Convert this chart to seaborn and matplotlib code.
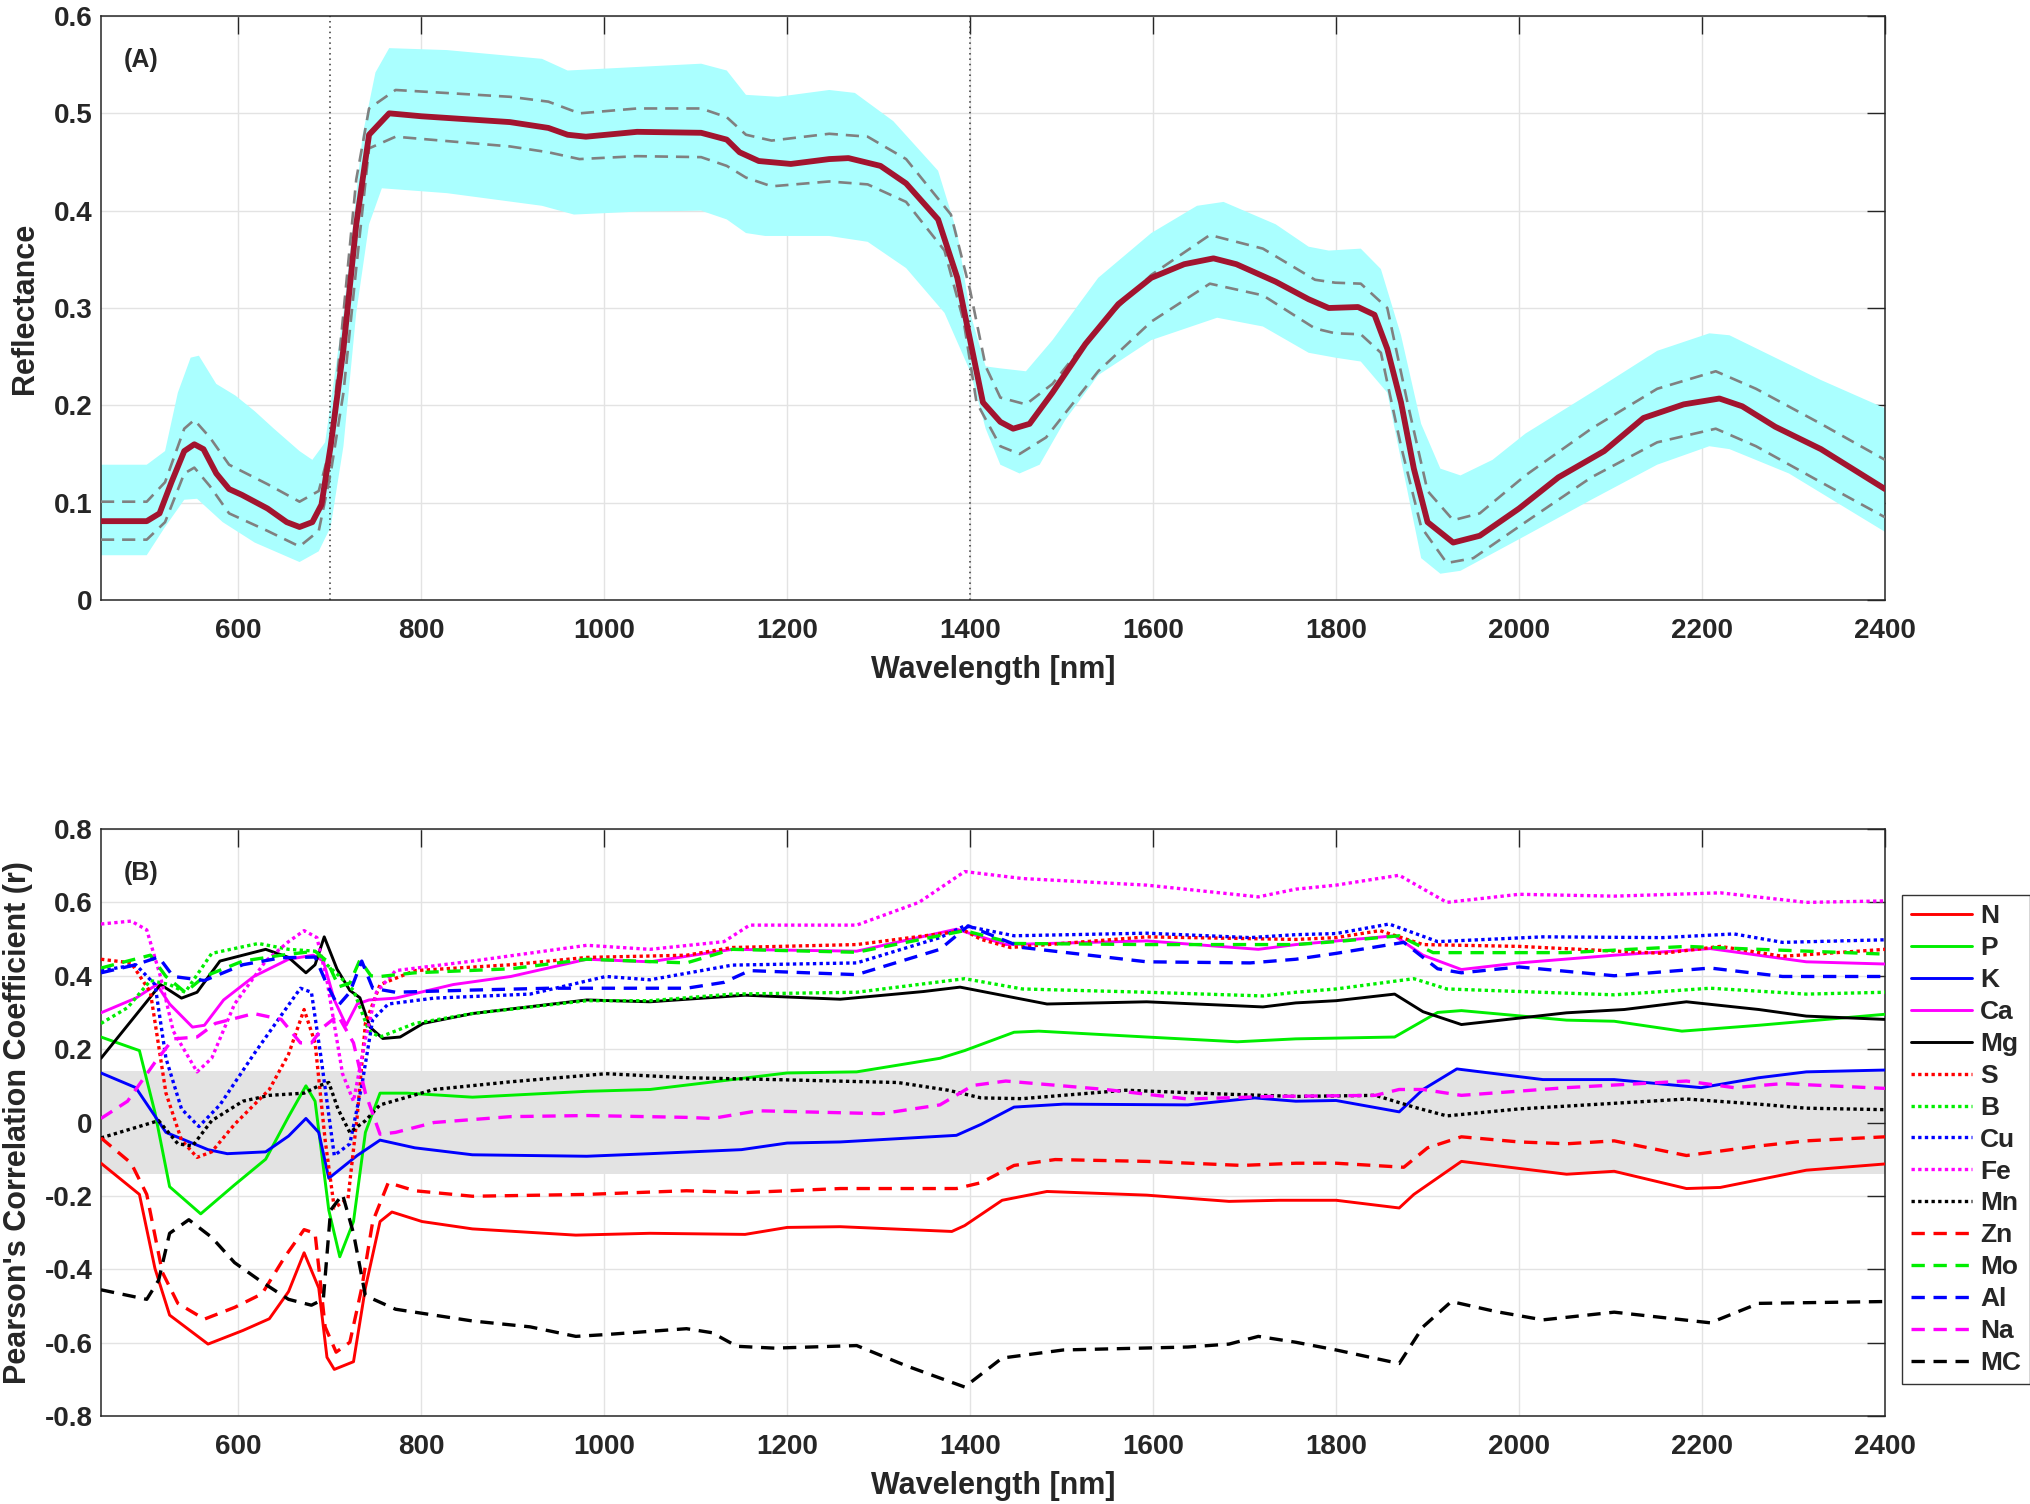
import numpy as np
import matplotlib
matplotlib.use("Agg")
import matplotlib.pyplot as plt
from matplotlib.ticker import FuncFormatter
import seaborn as sns

# ---- panel A: mean spectrum, +/- std (dashed) and min/max envelope (cyan)
MEAN_WL = [450, 500, 514, 527, 541, 552, 562, 576, 590, 604, 632, 653, 667, 681, 691, 701,
           715, 729, 743, 765, 800, 897, 939, 960, 980, 1036, 1106, 1134, 1148, 1169, 1204,
           1246, 1267, 1302, 1330, 1365, 1386, 1400, 1414, 1433, 1447, 1465, 1490, 1526, 1562,
           1598, 1634, 1666, 1691, 1734, 1770, 1792, 1824, 1842, 1856, 1871, 1885, 1900, 1928,
           1957, 2000, 2043, 2093, 2136, 2180, 2219, 2244, 2280, 2330, 2400]
MEAN_R = [0.081, 0.081, 0.089, 0.121, 0.153, 0.160, 0.155, 0.130, 0.114, 0.108, 0.094, 0.080,
          0.075, 0.080, 0.098, 0.158, 0.258, 0.386, 0.478, 0.500, 0.497, 0.491, 0.485, 0.478,
          0.476, 0.481, 0.480, 0.473, 0.460, 0.451, 0.448, 0.453, 0.454, 0.446, 0.428, 0.391,
          0.331, 0.267, 0.203, 0.183, 0.176, 0.181, 0.213, 0.263, 0.304, 0.331, 0.345, 0.351,
          0.345, 0.327, 0.309, 0.300, 0.301, 0.293, 0.258, 0.203, 0.135, 0.080, 0.059, 0.066,
          0.094, 0.126, 0.153, 0.187, 0.201, 0.207, 0.199, 0.178, 0.155, 0.114]

STD_HI_WL = [450, 500, 520, 541, 552, 569, 590, 632, 667, 688, 701, 715, 729, 743, 772, 897,
             939, 973, 1036, 1106, 1134, 1155, 1183, 1246, 1288, 1330, 1379, 1400, 1417, 1433,
             1461, 1490, 1540, 1598, 1662, 1720, 1777, 1799, 1827, 1856, 1878, 1900, 1928, 1957,
             2007, 2079, 2151, 2215, 2259, 2330, 2400]
STD_HI_R = [0.101, 0.101, 0.121, 0.176, 0.185, 0.167, 0.139, 0.119, 0.101, 0.112, 0.158, 0.295,
            0.432, 0.505, 0.524, 0.517, 0.512, 0.500, 0.505, 0.505, 0.496, 0.478, 0.472, 0.479,
            0.476, 0.453, 0.396, 0.318, 0.240, 0.208, 0.201, 0.222, 0.281, 0.334, 0.375, 0.361,
            0.329, 0.326, 0.325, 0.300, 0.203, 0.112, 0.082, 0.089, 0.128, 0.176, 0.217, 0.235,
            0.217, 0.181, 0.144]

STD_LO_WL = [450, 500, 520, 541, 552, 569, 590, 632, 667, 688, 701, 715, 729, 743, 772, 897,
             939, 973, 1036, 1106, 1134, 1155, 1183, 1246, 1288, 1330, 1372, 1393, 1407, 1433,
             1454, 1483, 1540, 1598, 1662, 1720, 1777, 1799, 1827, 1849, 1871, 1893, 1921, 1950,
             2007, 2079, 2151, 2215, 2259, 2330, 2400]
STD_LO_R = [0.062, 0.062, 0.080, 0.130, 0.136, 0.117, 0.089, 0.071, 0.055, 0.071, 0.130, 0.213,
            0.341, 0.464, 0.476, 0.466, 0.460, 0.453, 0.456, 0.455, 0.446, 0.434, 0.425, 0.430,
            0.427, 0.409, 0.359, 0.286, 0.203, 0.158, 0.150, 0.167, 0.235, 0.286, 0.325, 0.313,
            0.279, 0.274, 0.273, 0.254, 0.158, 0.075, 0.038, 0.043, 0.080, 0.126, 0.162, 0.176,
            0.158, 0.121, 0.085]

MAX_WL = [450, 500, 520, 534, 548, 557, 576, 597, 618, 639, 667, 681, 695, 715, 736, 750, 765,
          828, 932, 960, 1002, 1106, 1134, 1155, 1190, 1246, 1274, 1316, 1365, 1386, 1400, 1417,
          1433, 1461, 1490, 1540, 1598, 1648, 1677, 1734, 1770, 1792, 1827, 1849, 1871, 1893,
          1914, 1936, 1971, 2007, 2079, 2151, 2208, 2230, 2280, 2330, 2400]
MAX_R = [0.139, 0.139, 0.153, 0.213, 0.249, 0.251, 0.222, 0.210, 0.194, 0.176, 0.153, 0.144,
         0.162, 0.295, 0.478, 0.542, 0.567, 0.565, 0.556, 0.544, 0.546, 0.551, 0.544, 0.519,
         0.517, 0.524, 0.521, 0.492, 0.441, 0.377, 0.295, 0.240, 0.238, 0.235, 0.267, 0.331,
         0.377, 0.405, 0.409, 0.386, 0.363, 0.359, 0.361, 0.340, 0.272, 0.181, 0.135, 0.128,
         0.144, 0.171, 0.213, 0.256, 0.274, 0.272, 0.249, 0.226, 0.197]

MIN_WL = [450, 500, 520, 541, 555, 583, 618, 667, 688, 701, 715, 729, 743, 757, 828, 932, 967,
          1036, 1106, 1134, 1155, 1176, 1246, 1288, 1330, 1372, 1400, 1417, 1433, 1454, 1476,
          1504, 1540, 1598, 1670, 1720, 1770, 1799, 1827, 1856, 1878, 1893, 1914, 1936, 2007,
          2079, 2151, 2208, 2230, 2295, 2400]
MIN_R = [0.046, 0.046, 0.075, 0.103, 0.104, 0.080, 0.059, 0.039, 0.050, 0.075, 0.158, 0.295,
         0.386, 0.423, 0.418, 0.405, 0.396, 0.399, 0.400, 0.391, 0.377, 0.374, 0.374, 0.368,
         0.341, 0.295, 0.235, 0.176, 0.139, 0.130, 0.139, 0.185, 0.231, 0.267, 0.290, 0.281,
         0.254, 0.249, 0.245, 0.213, 0.112, 0.043, 0.027, 0.030, 0.066, 0.103, 0.139, 0.158,
         0.155, 0.130, 0.070]

REGION_EDGES = [700, 1400]

# ---- panel B: Pearson r per element
N_WL = [450, 492, 509, 525, 567, 605, 634, 655, 672, 688, 697, 705, 726, 739, 755, 768, 801,
        856, 969, 1050, 1154, 1200, 1258, 1380, 1394, 1435, 1484, 1593, 1683, 1738, 1800, 1869,
        1885, 1937, 2052, 2104, 2183, 2220, 2314, 2400]
N_R = [-0.111, -0.196, -0.398, -0.525, -0.604, -0.567, -0.535, -0.461, -0.355, -0.451, -0.640,
       -0.673, -0.652, -0.451, -0.270, -0.244, -0.270, -0.290, -0.307, -0.302, -0.305, -0.286,
       -0.284, -0.297, -0.281, -0.212, -0.188, -0.198, -0.215, -0.212, -0.212, -0.233, -0.196,
       -0.106, -0.141, -0.133, -0.180, -0.177, -0.130, -0.113]

P_WL = [450, 492, 509, 525, 559, 596, 630, 655, 674, 684, 699, 711, 726, 739, 755, 785, 856, 981,
        1050, 1200, 1276, 1367, 1394, 1448, 1475, 1593, 1692, 1756, 1864, 1911, 1937, 2052, 2104,
        2178, 2262, 2400]
P_R = [0.233, 0.196, 0.027, -0.175, -0.249, -0.170, -0.100, 0.016, 0.100, 0.058, -0.239, -0.366,
       -0.270, -0.027, 0.080, 0.080, 0.069, 0.085, 0.090, 0.135, 0.138, 0.175, 0.196, 0.246,
       0.249, 0.233, 0.220, 0.228, 0.233, 0.300, 0.305, 0.279, 0.276, 0.249, 0.265, 0.295]

K_WL = [450, 488, 521, 567, 588, 630, 655, 674, 688, 699, 730, 755, 793, 856, 981, 1050, 1150,
        1200, 1258, 1385, 1412, 1448, 1502, 1638, 1711, 1756, 1800, 1869, 1895, 1932, 2026, 2104,
        2199, 2262, 2314, 2400]
K_R = [0.135, 0.095, -0.027, -0.074, -0.085, -0.080, -0.037, 0.011, -0.027, -0.152, -0.090,
       -0.048, -0.069, -0.088, -0.092, -0.085, -0.074, -0.056, -0.053, -0.035, -0.005, 0.042,
       0.050, 0.048, 0.067, 0.058, 0.060, 0.029, 0.090, 0.146, 0.117, 0.117, 0.095, 0.122,
       0.138, 0.143]

CA_WL = [450, 488, 511, 525, 550, 563, 584, 617, 655, 682, 693, 705, 718, 730, 743, 772, 835, 898,
         981, 1050, 1140, 1276, 1385, 1412, 1439, 1593, 1715, 1756, 1864, 1895, 1937, 2000, 2104,
         2209, 2314, 2400]
CA_R = [0.299, 0.339, 0.376, 0.323, 0.260, 0.265, 0.334, 0.398, 0.445, 0.456, 0.440, 0.334,
        0.265, 0.323, 0.334, 0.339, 0.376, 0.398, 0.445, 0.438, 0.472, 0.467, 0.527, 0.506,
        0.485, 0.495, 0.472, 0.485, 0.509, 0.456, 0.417, 0.435, 0.456, 0.474, 0.438, 0.432]

MG_WL = [450, 515, 538, 555, 580, 630, 655, 674, 684, 694, 708, 722, 733, 744, 758, 777, 802,
         856, 981, 1050, 1154, 1258, 1349, 1389, 1484, 1593, 1720, 1756, 1800, 1864, 1895, 1937,
         2052, 2115, 2183, 2262, 2314, 2400]
MG_R = [0.175, 0.376, 0.339, 0.355, 0.440, 0.472, 0.450, 0.408, 0.430, 0.506, 0.418, 0.360,
        0.340, 0.260, 0.229, 0.233, 0.270, 0.297, 0.334, 0.329, 0.347, 0.336, 0.357, 0.369,
        0.323, 0.329, 0.315, 0.326, 0.332, 0.350, 0.302, 0.267, 0.299, 0.308, 0.329, 0.308,
        0.290, 0.281]

S_WL = [450, 483, 504, 521, 538, 555, 571, 596, 634, 655, 672, 684, 695, 705, 720, 730, 739, 755,
        793, 898, 981, 1090, 1140, 1276, 1394, 1412, 1444, 1593, 1756, 1800, 1848, 1895, 2000,
        2157, 2220, 2288, 2400]
S_R = [0.445, 0.435, 0.355, 0.080, -0.048, -0.095, -0.080, -0.005, 0.090, 0.186, 0.308, 0.217,
       -0.048, -0.233, -0.207, 0.016, 0.270, 0.376, 0.414, 0.430, 0.450, 0.456, 0.477, 0.485,
       0.523, 0.499, 0.477, 0.506, 0.499, 0.504, 0.523, 0.485, 0.480, 0.461, 0.480, 0.453,
       0.472]

B_WL = [450, 479, 504, 525, 542, 571, 622, 655, 684, 697, 710, 726, 743, 755, 793, 856, 981,
        1050, 1140, 1276, 1394, 1457, 1593, 1720, 1756, 1800, 1885, 1921, 2104, 2209, 2314, 2400]
B_R = [0.270, 0.313, 0.387, 0.376, 0.355, 0.461, 0.488, 0.472, 0.467, 0.430, 0.400, 0.360,
       0.249, 0.233, 0.270, 0.297, 0.332, 0.332, 0.350, 0.355, 0.392, 0.364, 0.355, 0.345,
       0.355, 0.364, 0.392, 0.364, 0.348, 0.366, 0.350, 0.355]

CU_WL = [450, 488, 509, 521, 538, 557, 580, 617, 647, 668, 680, 690, 705, 722, 735, 747, 764, 814,
         919, 1002, 1050, 1140, 1276, 1367, 1394, 1448, 1593, 1706, 1756, 1800, 1858, 1911, 2026,
         2157, 2235, 2288, 2400]
CU_R = [0.414, 0.430, 0.376, 0.175, 0.037, -0.011, 0.048, 0.186, 0.292, 0.366, 0.355, 0.186,
        -0.090, -0.058, 0.100, 0.281, 0.323, 0.339, 0.350, 0.398, 0.389, 0.429, 0.435, 0.504,
        0.536, 0.509, 0.516, 0.504, 0.512, 0.515, 0.541, 0.493, 0.506, 0.504, 0.514, 0.491,
        0.498]

FE_WL = [450, 483, 500, 515, 529, 555, 571, 596, 630, 655, 672, 686, 697, 714, 726, 739, 751, 772,
         856, 981, 1050, 1131, 1159, 1276, 1344, 1394, 1457, 1593, 1715, 1756, 1800, 1869, 1921,
         2000, 2104, 2220, 2314, 2400]
FE_R = [0.541, 0.549, 0.525, 0.398, 0.249, 0.138, 0.175, 0.323, 0.440, 0.493, 0.523, 0.504,
        0.387, 0.133, 0.058, 0.228, 0.355, 0.414, 0.440, 0.483, 0.472, 0.493, 0.538, 0.538,
        0.600, 0.684, 0.665, 0.647, 0.615, 0.636, 0.647, 0.674, 0.600, 0.622, 0.617, 0.626,
        0.600, 0.604]

MN_WL = [450, 513, 534, 550, 571, 605, 634, 672, 688, 699, 709, 722, 739, 755, 814, 898, 1002,
         1090, 1186, 1321, 1376, 1412, 1457, 1570, 1683, 1756, 1843, 1885, 1921, 2000, 2183,
         2262, 2314, 2400]
MN_R = [-0.042, 0.005, -0.058, -0.064, 0.005, 0.058, 0.074, 0.080, 0.100, 0.109, 0.037, -0.027,
        0.005, 0.048, 0.090, 0.111, 0.133, 0.122, 0.117, 0.109, 0.088, 0.067, 0.065, 0.088,
        0.077, 0.071, 0.074, 0.042, 0.018, 0.037, 0.064, 0.050, 0.039, 0.035]

ZN_WL = [450, 483, 500, 517, 534, 563, 596, 626, 651, 672, 684, 695, 707, 722, 735, 747, 764, 793,
         856, 981, 1090, 1154, 1258, 1385, 1412, 1448, 1493, 1593, 1697, 1756, 1800, 1874, 1900,
         1937, 2000, 2052, 2104, 2183, 2262, 2314, 2400]
ZN_R = [-0.042, -0.111, -0.196, -0.408, -0.493, -0.536, -0.504, -0.467, -0.366, -0.292, -0.302,
        -0.557, -0.626, -0.599, -0.451, -0.270, -0.164, -0.186, -0.201, -0.196, -0.186, -0.191,
        -0.180, -0.180, -0.164, -0.117, -0.101, -0.106, -0.117, -0.111, -0.111, -0.122, -0.069,
        -0.039, -0.053, -0.058, -0.050, -0.090, -0.064, -0.050, -0.039]

MO_WL = [450, 479, 504, 521, 542, 563, 605, 647, 684, 697, 710, 722, 733, 745, 755, 793, 898, 981,
         1090, 1140, 1276, 1394, 1448, 1593, 1756, 1800, 1869, 1906, 2052, 2183, 2262, 2400]
MO_R = [0.421, 0.440, 0.456, 0.398, 0.355, 0.398, 0.440, 0.456, 0.467, 0.440, 0.370, 0.380,
        0.443, 0.400, 0.398, 0.408, 0.419, 0.445, 0.435, 0.472, 0.464, 0.523, 0.488, 0.485,
        0.485, 0.493, 0.509, 0.463, 0.463, 0.480, 0.472, 0.459]

AL_WL = [450, 488, 513, 529, 563, 605, 647, 684, 697, 709, 722, 735, 747, 772, 856, 940, 1090,
         1131, 1159, 1276, 1367, 1398, 1457, 1593, 1706, 1756, 1800, 1874, 1911, 1937, 2000, 2104,
         2209, 2288, 2400]
AL_R = [0.408, 0.430, 0.451, 0.398, 0.387, 0.430, 0.449, 0.451, 0.376, 0.318, 0.355, 0.440,
        0.366, 0.355, 0.361, 0.366, 0.366, 0.382, 0.414, 0.403, 0.472, 0.536, 0.477, 0.438,
        0.435, 0.445, 0.461, 0.491, 0.419, 0.408, 0.424, 0.400, 0.421, 0.398, 0.398]

NA_WL = [450, 479, 509, 529, 555, 575, 617, 647, 668, 680, 693, 709, 726, 739, 755, 772, 814, 898,
         981, 1090, 1118, 1168, 1303, 1367, 1403, 1439, 1548, 1638, 1729, 1843, 1869, 1895, 1937,
         2052, 2183, 2235, 2288, 2400]
NA_R = [0.011, 0.058, 0.164, 0.228, 0.233, 0.270, 0.297, 0.281, 0.217, 0.217, 0.260, 0.292,
        0.217, 0.080, -0.032, -0.027, 0.000, 0.016, 0.019, 0.014, 0.011, 0.032, 0.024, 0.048,
        0.101, 0.113, 0.090, 0.064, 0.071, 0.074, 0.090, 0.090, 0.074, 0.095, 0.113, 0.095,
        0.106, 0.093]

MC_WL = [450, 500, 513, 525, 546, 571, 596, 626, 655, 680, 693, 701, 714, 726, 739, 772, 856, 919,
         969, 1002, 1090, 1118, 1145, 1186, 1276, 1330, 1394, 1435, 1502, 1638, 1683, 1715, 1756,
         1800, 1869, 1895, 1926, 1974, 2026, 2104, 2209, 2262, 2400]
MC_R = [-0.456, -0.482, -0.430, -0.302, -0.265, -0.313, -0.382, -0.435, -0.482, -0.498, -0.482,
        -0.239, -0.196, -0.302, -0.472, -0.509, -0.541, -0.557, -0.583, -0.578, -0.562, -0.573,
        -0.610, -0.615, -0.608, -0.663, -0.721, -0.642, -0.620, -0.612, -0.604, -0.583, -0.599,
        -0.620, -0.657, -0.557, -0.488, -0.515, -0.538, -0.517, -0.546, -0.493, -0.488]

SIG_R = 0.14  # non-significant band

ELEMENTS = ["N", "P", "K", "Ca", "Mg", "S", "B", "Cu", "Fe", "Mn", "Zn", "Mo", "Al", "Na", "MC"]
SERIES = [(N_WL, N_R), (P_WL, P_R), (K_WL, K_R), (CA_WL, CA_R), (MG_WL, MG_R),
          (S_WL, S_R), (B_WL, B_R), (CU_WL, CU_R), (FE_WL, FE_R), (MN_WL, MN_R),
          (ZN_WL, ZN_R), (MO_WL, MO_R), (AL_WL, AL_R), (NA_WL, NA_R), (MC_WL, MC_R)]
COLORS = ["#ff0000", "#00ee00", "#0000ff", "#ff00ff", "#000000"] * 3
STYLES = ["-"] * 5 + [(0, (1, 1))] * 5 + [(0, (4, 2.6))] * 5

sns.set_style("white")
plt.rcParams["font.family"] = ["Liberation Sans", "DejaVu Sans"]
plt.rcParams["font.weight"] = "bold"
plt.rcParams["axes.unicode_minus"] = False

FIG_W, FIG_H = 2031, 1504
fig = plt.figure(figsize=(FIG_W / 100, FIG_H / 100), dpi=100)


def frac(x0, y0, x1, y1):
    return [x0 / FIG_W, 1 - y1 / FIG_H, (x1 - x0) / FIG_W, (y1 - y0) / FIG_H]


ax_a = fig.add_axes(frac(101, 16, 1885, 600))
ax_b = fig.add_axes(frac(101, 829, 1885, 1416))


def tick_fmt(v, _):
    return "{:g}".format(round(v, 2) + 0.0)


def style_axis(ax):
    ax.set_xlim(450, 2400)
    ax.set_xticks(range(600, 2401, 200))
    ax.grid(True, color="#e3e3e3", lw=1.0)
    ax.set_axisbelow(True)
    for sp in ax.spines.values():
        sp.set_color("#262626")
        sp.set_linewidth(1.1)
    ax.tick_params(direction="in", length=13, width=1.0, color="#262626",
                   labelcolor="#262626", top=True, right=True, labelsize=20)
    ax.tick_params(axis="x", pad=13)
    ax.tick_params(axis="y", pad=6)
    for lab in ax.get_xticklabels() + ax.get_yticklabels():
        lab.set_fontweight("bold")
    ax.yaxis.set_major_formatter(FuncFormatter(tick_fmt))
    ax.set_xlabel("Wavelength [nm]", fontsize=22, fontweight="bold", labelpad=8,
                  color="#262626")


# panel A
env_x = MAX_WL + MIN_WL[::-1]
env_y = MAX_R + MIN_R[::-1]
ax_a.fill(env_x, env_y, color="#aaffff", lw=0, zorder=1)
for wl, r in [(STD_HI_WL, STD_HI_R), (STD_LO_WL, STD_LO_R)]:
    sns.lineplot(x=wl, y=r, ax=ax_a, color="#808080", lw=1.9,
                 linestyle=(0, (5, 3)), estimator=None, errorbar=None, legend=False, zorder=3)
sns.lineplot(x=MEAN_WL, y=MEAN_R, ax=ax_a, color="#a2142f", lw=4.2,
             estimator=None, errorbar=None, legend=False, zorder=4)
for edge in REGION_EDGES:
    ax_a.axvline(edge, color="#333333", lw=1.1, linestyle=(0, (1, 2.5)), zorder=2)
ax_a.set_ylim(0, 0.6)
ax_a.set_yticks(np.arange(0, 0.61, 0.1))
style_axis(ax_a)
ax_a.set_ylabel("Reflectance", fontsize=22, fontweight="bold", color="#262626")
ax_a.yaxis.set_label_coords(-0.034, 0.5)
ax_a.text(0.013, 0.945, "(A)", transform=ax_a.transAxes, fontsize=18,
          fontweight="bold", va="top", ha="left")

# panel B
ax_b.axhspan(-SIG_R, SIG_R, color="#e3e3e3", lw=0, zorder=0.5)
for name, (wl, r), col, ls in zip(ELEMENTS, SERIES, COLORS, STYLES):
    lw = 2.4 if ls != "-" else 2.1
    sns.lineplot(x=wl, y=r, ax=ax_b, color=col, lw=lw, linestyle=ls, label=name,
                 estimator=None, errorbar=None, legend=False, zorder=3)
ax_b.set_ylim(-0.8, 0.8)
ax_b.set_yticks(np.arange(-0.8, 0.81, 0.2))
style_axis(ax_b)
ax_b.set_ylabel("Pearson's Correlation Coefficient (r)", fontsize=22,
                fontweight="bold", color="#262626")
ax_b.yaxis.set_label_coords(-0.038, 0.5)
ax_b.text(0.013, 0.945, "(B)", transform=ax_b.transAxes, fontsize=18,
          fontweight="bold", va="top", ha="left")

handles, labels = ax_b.get_legend_handles_labels()
leg = fig.legend(handles, labels, loc="upper left",
                 bbox_to_anchor=(1902 / FIG_W, 1 - 895 / FIG_H),
                 frameon=True, fancybox=False, edgecolor="black",
                 prop={"size": 19, "weight": "bold"}, handlelength=2.3,
                 handletextpad=0.3, labelspacing=0.3, borderpad=0.35,
                 borderaxespad=0)
leg.get_frame().set_linewidth(1.0)

fig.savefig("out.png", dpi=100)
